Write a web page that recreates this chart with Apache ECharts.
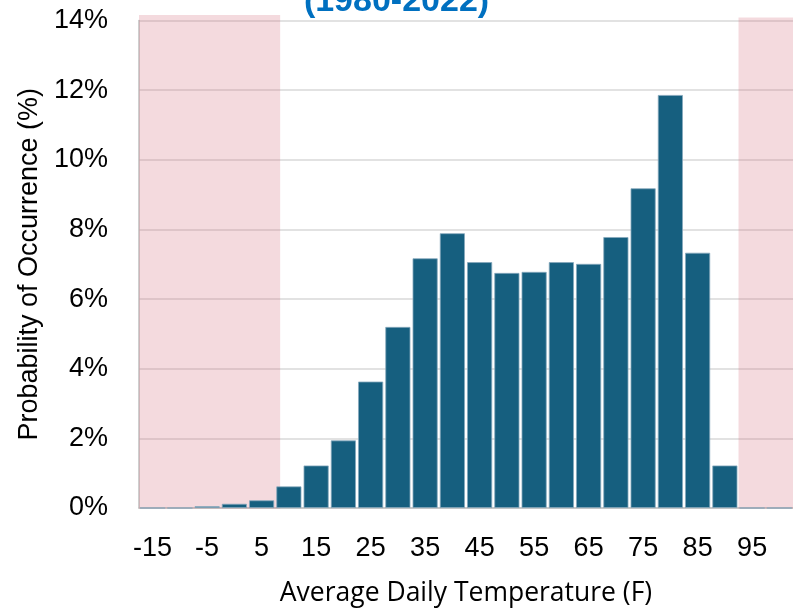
<!DOCTYPE html>
<html>
<head>
<meta charset="utf-8">
<script src="https://cdn.jsdelivr.net/npm/echarts@6/dist/echarts.min.js"></script>
<style>
html,body{margin:0;padding:0;background:#fff;}
#chart{width:793px;height:612px;}
</style>
</head>
<body>
<div id="chart"></div>
<script>
var categories = ['-15','-10','-5','0','5','10','15','20','25','30','35','40','45','50','55','60','65','70','75','80','85','90','95','100'];
var probability = [0, 0, 0.05, 0.12, 0.22, 0.62, 1.22, 1.94, 3.63, 5.2, 7.17, 7.89, 7.06, 6.75, 6.78, 7.06, 7.01, 7.78, 9.18, 11.86, 7.33, 1.22, 0, 0];
var yTicks = [0, 2, 4, 6, 8, 10, 12, 14];
var pinkRanges = [[-17.5, 8.4, 14.17], [92.5, 102.5, 14.1]];
var titleText = '(1980-2022)';
var xName = 'Average Daily Temperature (F)';
var yName = 'Probability of Occurrence (%)';

var chart = echarts.init(document.getElementById('chart'), null, {renderer:'canvas'});
var font = 'Liberation Sans, Arial, sans-serif';
chart.setOption({
  animation:false,
  backgroundColor:'#ffffff',
  title:{
    text:titleText, left:'center', top:-20,
    textStyle:{color:'#0070c0', fontSize:34, fontWeight:'bold', fontFamily:font}
  },
  grid:[
    {left:139, right:-4, top:20.5, bottom:103.5, containLabel:false},
    {left:139, right:-4, top:15, bottom:103.5, containLabel:false}
  ],
  xAxis:[{
    type:'category', data:categories, gridIndex:0,
    axisLine:{show:true, lineStyle:{color:'#bfbfbf', width:1.5}},
    axisTick:{show:false},
    axisLabel:{interval:1, color:'#000', fontSize:27, fontFamily:font, margin:27},
    name:xName, nameLocation:'middle', nameGap:72,
    nameTextStyle:{color:'#000', fontSize:26.5, fontFamily:'Open Sans, Noto Sans, sans-serif'}
  },{
    type:'value', gridIndex:1, min:-17.5, max:102.5, show:false
  }],
  yAxis:[{
    type:'value', gridIndex:0, min:yTicks[0], max:yTicks[yTicks.length-1], interval:2,
    axisLine:{show:true, onZero:false, lineStyle:{color:'#bfbfbf', width:1.5}},
    axisTick:{show:false},
    splitLine:{show:true, lineStyle:{color:'#d9d9d9', width:1.5}},
    axisLabel:{color:'#000', fontSize:27, fontFamily:font, margin:31, formatter:function(v){return v+'%';}},
    name:yName, nameLocation:'middle', nameGap:95,
    nameTextStyle:{color:'#000', fontSize:27, fontFamily:font}
  },{
    type:'value', gridIndex:1, min:0, max:14.17, show:false
  }],
  series:[{
    type:'bar', data:probability, xAxisIndex:0, yAxisIndex:0,
    barCategoryGap:'8%',
    itemStyle:{color:'#165f7f', borderColor:'#86a8bc', borderWidth:0.8},
    z:2
  },{
    type:'line', xAxisIndex:1, yAxisIndex:1, data:[],
    symbol:'none', silent:true, z:5,
    markArea:{
      silent:true,
      itemStyle:{color:'rgba(210,100,115,0.24)'},
      data:pinkRanges.map(function(r){return [{coord:[r[0], r[2]]},{coord:[r[1], 0]}];})
    }
  }]
});
</script>
</body>
</html>
